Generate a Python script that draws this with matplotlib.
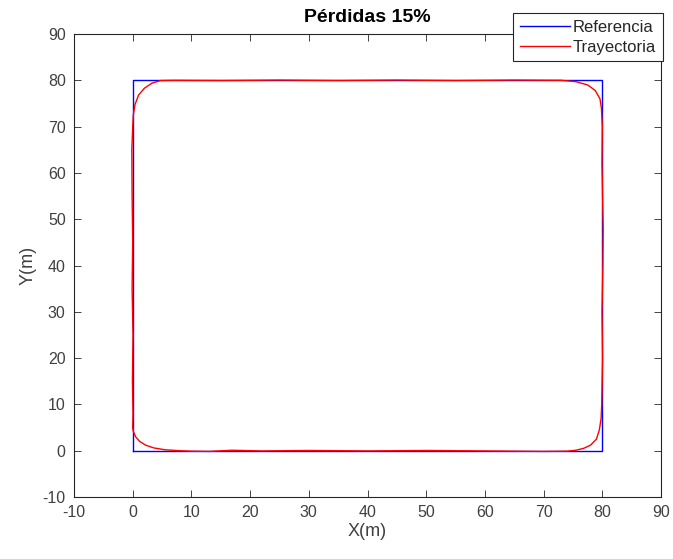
import matplotlib
matplotlib.use("Agg")
import matplotlib.pyplot as plt

plt.rcParams['font.family'] = ['Liberation Sans', 'DejaVu Sans']
plt.rcParams['axes.unicode_minus'] = False

# Reference square
ref_x = [0, 80, 80, 0, 0]
ref_y = [0, 0, 80, 80, 0]

# Trajectory
traj_x = [0.0, 0.1, 0.5, 1.2, 2.2, 3.6, 5.5, 8.0, 10.0, 13.0, 17.0, 22.0, 30.0, 40.0, 50.0, 60.0, 70.0, 74.0,
          75.5, 76.8, 78.0, 79.0, 79.5, 79.8,
          79.9, 80.05, 79.95, 80.1, 80.15, 80.05, 79.95, 80.0, 79.85,
          79.6, 78.8, 77.5, 75.5, 73.0,
          65.0, 55.0, 45.0, 35.0, 25.0, 15.0, 7.0, 4.8,
          3.3, 2.0, 1.0, 0.4, 0.1, 0.0,
          -0.15, -0.1, 0.0, -0.1, 0.05, -0.05, 0.05, 0.0]
traj_y = [5.0, 4.2, 3.0, 2.0, 1.2, 0.6, 0.2, 0.0, -0.1, -0.15, 0.1, -0.05, 0.05, -0.05, 0.05, -0.05, -0.15, -0.1,
          0.1, 0.5, 1.2, 2.5, 4.5, 7.0,
          10.0, 20.0, 30.0, 40.0, 48.0, 55.0, 62.0, 70.0, 74.0,
          76.0, 77.8, 79.0, 79.7, 80.0,
          80.05, 79.95, 80.05, 79.95, 80.05, 79.95, 80.0, 79.95,
          79.4, 78.3, 76.8, 74.8, 72.5, 70.0,
          65.0, 55.0, 45.0, 35.0, 25.0, 15.0, 8.0, 5.0]

xticks = list(range(-10, 91, 10))
yticks = list(range(-10, 91, 10))

fig = plt.figure(figsize=(6.73, 5.59), dpi=100)
ax = fig.add_axes([74/673, 1 - 497/559, (661 - 74)/673, (497 - 34)/559])

ax.plot(ref_x, ref_y, color=(0, 0, 1), lw=1.0, label='Referencia')
ax.plot(traj_x, traj_y, color=(1, 0, 0), lw=1.0, label='Trayectoria')

ax.set_xlim(-10, 90)
ax.set_ylim(-10, 90)
ax.set_xticks(xticks)
ax.set_yticks(yticks)
dark = '#262626'
ax.tick_params(direction='in', length=5, width=0.6, top=True, right=True,
               labelsize=11.5, colors=dark, pad=6)
for lbl in ax.get_xticklabels() + ax.get_yticklabels():
    lbl.set_color('#404040')
for s in ax.spines.values():
    s.set_linewidth(0.8)
    s.set_color(dark)

ax.set_xlabel('X(m)', fontsize=13, color='#404040', labelpad=2)
ax.set_ylabel('Y(m)', fontsize=13, color='#404040', labelpad=4)
ax.set_title('Pérdidas 15%', fontsize=14, fontweight='bold', color='black', pad=9)

leg = fig.legend(loc='upper right', bbox_to_anchor=(663/673, 1 - 13/559), borderaxespad=0,
                 fancybox=False, framealpha=1, edgecolor=dark, fontsize=12,
                 handlelength=3.0, handletextpad=0.2, borderpad=0.4, labelspacing=0.3)
leg.get_frame().set_linewidth(0.8)
for t in leg.get_texts():
    t.set_color('#262626')

fig.savefig('out.png', dpi=100)
